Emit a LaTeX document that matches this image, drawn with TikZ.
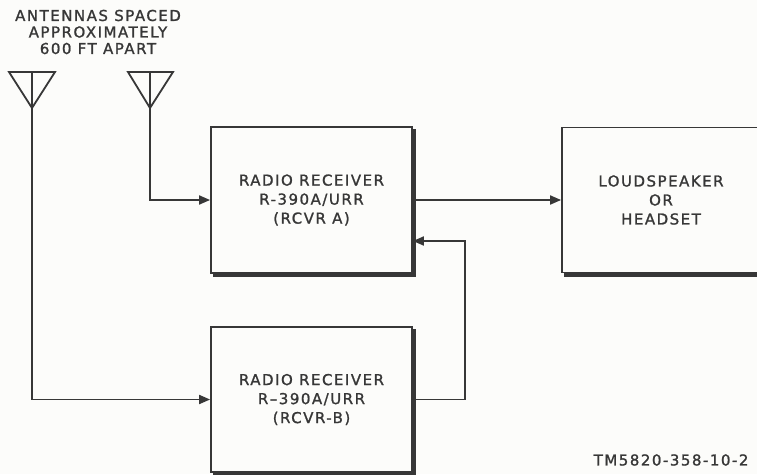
\documentclass[tikz,border=0pt]{standalone}
\usepackage{fontspec}
\setmainfont{DejaVu Sans}[LetterSpace=10, FakeBold=1.3]
\usetikzlibrary{arrows.meta, positioning, calc}
\definecolor{inkgray}{RGB}{55, 55, 55}
\definecolor{paper}{RGB}{252, 252, 250}

\begin{document}
\begin{tikzpicture}[x=1pt, y=-1pt,
  block/.style={draw=inkgray, line width=1.8pt, minimum width=201pt, minimum height=146pt,
                inner sep=0pt, align=center, text=inkgray, font=\fontsize{15}{19}\selectfont},
  wire/.style={draw=inkgray, line width=1.8pt},
  feed/.style={wire, -{Triangle[length=11pt, width=9pt]}},
  boxshadow/.style={draw=inkgray, line width=3.2pt},
  note/.style={text=inkgray, align=center, font=\fontsize{15}{16.5}\selectfont},
]
\clip (0,0) rectangle (757,474);
\fill[paper] (0,0) rectangle (757,474);

% Title over the antennas
\node[note] (title) at (98,32) {ANTENNAS SPACED\\APPROXIMATELY\\600 FT APART};

% Antennas
\draw[wire] (9,72) -- (55,72) -- (32,108) -- cycle;
\draw[wire] (32,72) -- (32,108);
\coordinate (antA) at (32,108);
\draw[wire] (128,72) -- (173,72) -- (150,108) -- cycle;
\draw[wire] (150,72) -- (150,108);
\coordinate (antB) at (150,108);

% Receivers and output
\node[block] (rcvrA) at (311.5,200) {RADIO RECEIVER\\R-390A/URR\\(RCVR A)};
\node[block, minimum height=145pt] (rcvrB) at (311.5,399.5) {RADIO RECEIVER\\R--390A/URR\\(RCVR-B)};
\node[block, minimum width=198pt, minimum height=145pt] (spk) at (661,200) {LOUDSPEAKER\\OR\\HEADSET};

% Shadows on right and bottom edges
\foreach \b in {rcvrA, rcvrB, spk}
  \draw[boxshadow] ([shift={(1.5,3)}]\b.north east) -- ([shift={(1.5,1.5)}]\b.south east)
                   -- ([shift={(3,1.5)}]\b.south west);

% Connections
\draw[feed] (antB) |- (rcvrA.west);
\draw[feed] (antA) |- (rcvrB.west);
\draw[feed] (rcvrA.east) -- (spk.west);
\coordinate (fb) at (465,241);
\draw[feed] (rcvrB.east) -| (fb) -- (fb -| rcvrA.east);

% Figure number
\node[note, anchor=east] (fig) at (752,460) {TM5820-358-10-2};
\end{tikzpicture}
\end{document}
